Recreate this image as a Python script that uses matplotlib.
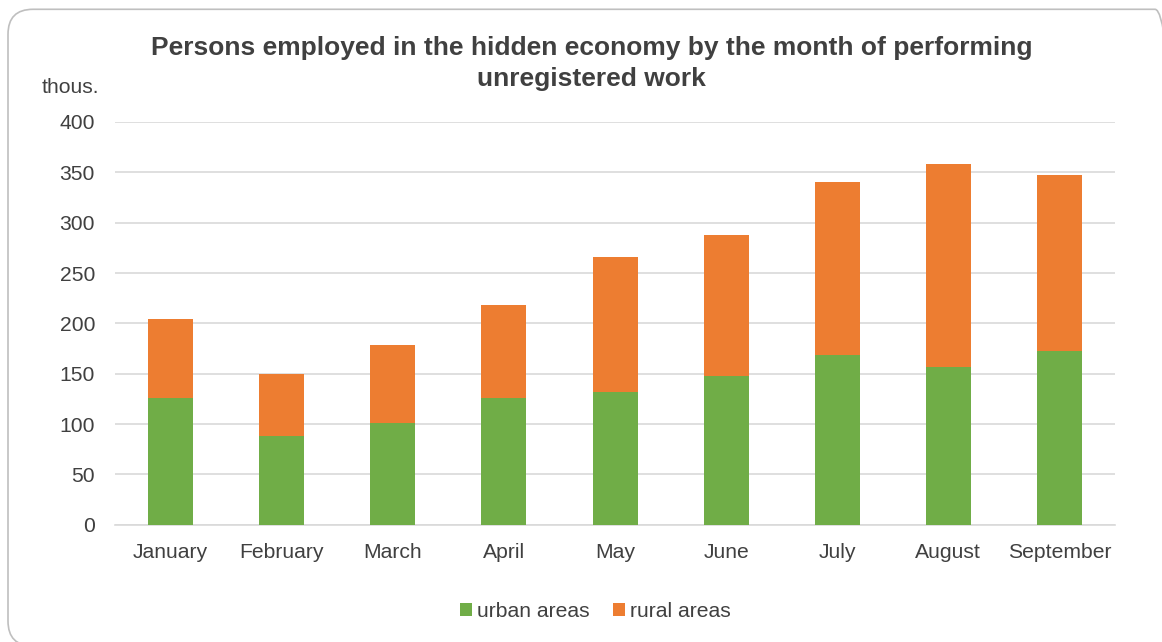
import matplotlib
matplotlib.use('Agg')
import matplotlib.pyplot as plt
from matplotlib.patches import FancyBboxPatch
from matplotlib.transforms import IdentityTransform
import numpy as np

months = ['January', 'February', 'March', 'April', 'May', 'June',
          'July', 'August', 'September']
urban = [126, 88, 101, 126, 132, 148, 169, 157, 173]
rural = [78, 62, 77, 92, 134, 140, 171, 201, 174]
yticks = [0, 50, 100, 150, 200, 250, 300, 350, 400]

GREEN = '#70ad47'
ORANGE = '#ed7d31'
TEXT = '#404040'

plt.rcParams['font.family'] = ['Liberation Sans', 'DejaVu Sans']

fig = plt.figure(figsize=(11.62, 6.42), dpi=100)
ax = fig.add_axes([0.099, 0.1827, 0.8606, 0.6273])

# rounded frame, in pixels; the right and bottom edges run off the image
frame = FancyBboxPatch((8, -4), 1172, 636.7,
                       boxstyle='round,pad=0,rounding_size=25',
                       transform=IdentityTransform(), facecolor='none',
                       edgecolor='#bfbfbf', linewidth=1.2)
fig.patches.append(frame)

x = np.arange(len(months))
w = 0.405
ax.bar(x, urban, w, color=GREEN, label='urban areas', zorder=3)
ax.bar(x, rural, w, bottom=urban, color=ORANGE, label='rural areas', zorder=3)

ax.set_xlim(-0.5, len(months) - 0.5)
ax.set_ylim(0, 400)
ax.set_yticks(yticks)
ax.set_xticks(x)
ax.set_xticklabels(months)
ax.tick_params(axis='both', length=0, labelsize=15.2, colors=TEXT)
ax.tick_params(axis='x', pad=13)
ax.tick_params(axis='y', pad=14.4)
ax.grid(axis='y', color='#d9d9d9', linewidth=1.2, zorder=0)
for s in ['top', 'right', 'left']:
    ax.spines[s].set_visible(False)
ax.spines['bottom'].set_color('#d9d9d9')
ax.spines['bottom'].set_linewidth(1.2)

fig.text(0.509, 0.901, 'Persons employed in the hidden economy by the month of performing\nunregistered work',
         ha='center', va='center', fontsize=19, fontweight='bold', color=TEXT,
         linespacing=1.4)
fig.text(0.036, 0.863, 'thous.', ha='left', va='center', fontsize=15.2, color=TEXT)

fig.legend(loc='center', bbox_to_anchor=(0.5126, 0.047), ncol=2, frameon=False,
           fontsize=15.2, handlelength=0.55, handleheight=0.55, handletextpad=0.25,
           columnspacing=1.12, labelcolor=TEXT)

fig.savefig('out.png', dpi=100)
